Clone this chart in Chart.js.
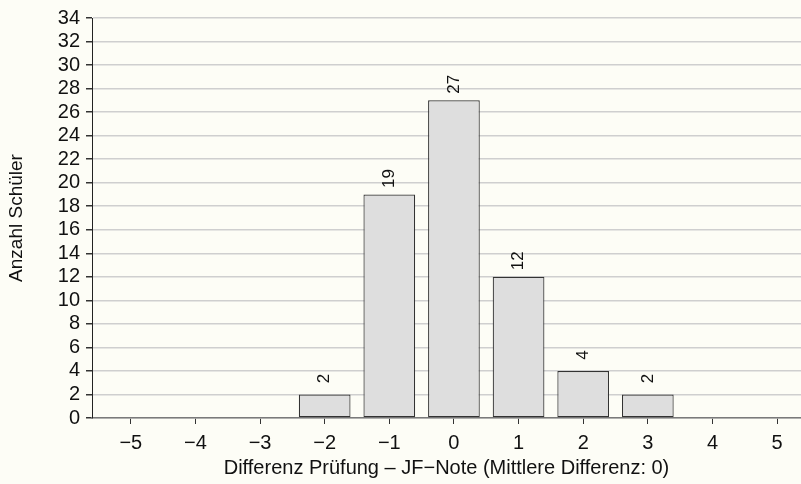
<!DOCTYPE html>
<html>
<head>
<meta charset="utf-8">
<script src="https://cdn.jsdelivr.net/npm/chart.js@4.4.1/dist/chart.umd.min.js"></script>
<style>
    html, body { margin: 0; padding: 0; background: #fdfdf6; }
    #wrap { width: 801px; height: 484px; }
</style>
</head>
<body>
<div id="wrap"><canvas id="diffChart" width="801" height="484"></canvas></div>
<script>
// Differenz Prüfung - JF-Note, Anzahl Schüler pro Differenz
const differenzen = [-5, -4, -3, -2, -1, 0, 1, 2, 3, 4, 5];
const anzahl = [0, 0, 0, 2, 19, 27, 12, 4, 2, 0, 0];
const xTitle = 'Differenz Prüfung \u2013 JF\u2212Note (Mittlere Differenz: 0)';
const yTitle = 'Anzahl Schüler';

const FONT = 'Liberation Sans, Arial, Helvetica, sans-serif';

function minus(v) {
    return v < 0 ? '\u2212' + Math.abs(v) : String(v);
}

// background colour of the whole canvas
const bgPlugin = {
    id: 'bg',
    beforeDraw(chart) {
        const ctx = chart.ctx;
        ctx.save();
        ctx.fillStyle = '#fdfdf6';
        ctx.fillRect(0, 0, chart.width, chart.height);
        ctx.restore();
    }
};

// rotated value labels above the bars
const valueLabels = {
    id: 'valueLabels',
    afterDatasetsDraw(chart) {
        const ctx = chart.ctx;
        const meta = chart.getDatasetMeta(0);
        ctx.save();
        ctx.fillStyle = '#111';
        ctx.font = '17px ' + FONT;
        ctx.textAlign = 'center';
        ctx.textBaseline = 'middle';
        meta.data.forEach((bar, i) => {
            const v = anzahl[i];
            if (!v) return;
            ctx.save();
            ctx.translate(bar.x, bar.y - 16);
            ctx.rotate(-Math.PI / 2);
            ctx.fillText(String(v), 0, 0);
            ctx.restore();
        });
        ctx.restore();
    }
};

const data = {
    datasets: [{
        data: differenzen.map((d, i) => ({ x: d, y: anzahl[i] > 0 ? anzahl[i] : null })),
        backgroundColor: '#dedede',
        borderColor: '#333',
        borderWidth: 1.2,
        borderSkipped: false,
        barPercentage: 0.8,
        categoryPercentage: 1.0
    }]
};

const config = {
    type: 'bar',
    data: data,
    options: {
        responsive: false,
        animation: false,
        layout: { padding: { top: 17, right: 0, left: 0, bottom: 0 } },
        plugins: {
            legend: { display: false },
            tooltip: { enabled: false }
        },
        scales: {
            x: {
                type: 'linear',
                min: -5.6,
                max: 5.37,
                offset: false,
                afterFit(scale) { scale.height = 66; },
                grid: {
                    offset: false,
                    drawOnChartArea: false,
                    drawTicks: true,
                    tickLength: 6,
                    tickColor: '#333'
                },
                border: { display: true, color: '#7a7a7a', width: 1.5 },
                ticks: {
                    stepSize: 1,
                    includeBounds: false,
                    autoSkip: false,
                    maxRotation: 0,
                    padding: 7,
                    color: '#111',
                    font: { family: FONT, size: 20 },
                    callback: (v) => minus(v)
                },
                title: {
                    display: true,
                    text: xTitle,
                    color: '#111',
                    font: { family: FONT, size: 20 },
                    padding: { top: 0, bottom: 4 }
                }
            },
            y: {
                min: 0,
                max: 34,
                afterFit(scale) { scale.width = 92; },
                grid: {
                    color: '#cfcfcf',
                    lineWidth: 1.5,
                    drawTicks: true,
                    tickLength: 6,
                    tickColor: '#333'
                },
                border: { display: true, color: '#222', width: 1 },
                ticks: {
                    stepSize: 2,
                    autoSkip: false,
                    padding: 6,
                    color: '#111',
                    font: { family: FONT, size: 20 }
                },
                title: {
                    display: true,
                    text: yTitle,
                    color: '#111',
                    font: { family: FONT, size: 19 },
                    padding: { top: 5, bottom: 0 }
                }
            }
        }
    },
    plugins: [bgPlugin, valueLabels]
};

new Chart(document.getElementById('diffChart'), config);
</script>
</body>
</html>
